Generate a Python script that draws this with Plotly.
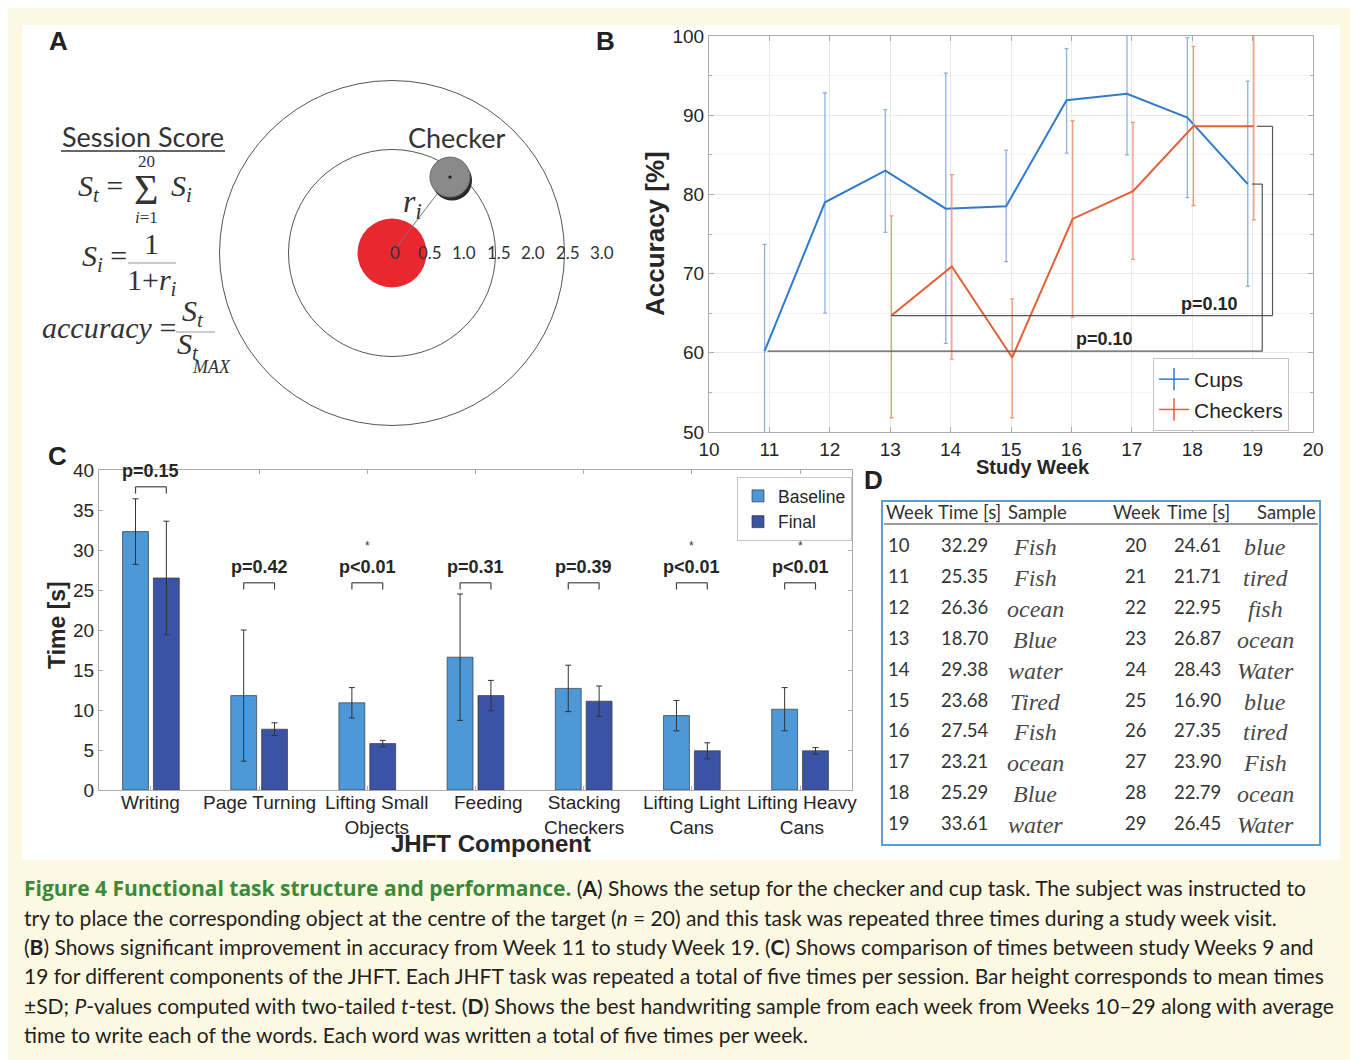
import plotly.graph_objects as go

# Figure is placed inside a page with an 8px body margin, so screen pixel x maps to x-8.
OFF = 8
W, H = 1350, 1052


def px(x):
    return (x - OFF) / W


def py(y):
    return 1 - (y - OFF) / H


# ---------------- Panel B data (accuracy) ----------------
cups_weeks = [11, 12, 13, 14, 15, 16, 17, 18, 19]
cups_acc = [60.2, 79.0, 83.0, 78.2, 78.5, 91.9, 92.7, 89.7, 81.3]
cups_upper = [73.7, 92.8, 90.7, 95.3, 85.6, 98.4, 100.3, 99.8, 94.3]
cups_lower = [48.0, 65.0, 75.2, 61.2, 71.5, 85.2, 85.0, 79.6, 68.4]

checkers_weeks = [13, 14, 15, 16, 17, 18, 19]
checkers_acc = [64.7, 70.9, 59.4, 76.9, 80.4, 88.6, 88.6]
checkers_upper = [77.3, 82.5, 66.8, 89.3, 89.1, 98.7, 101.0]
checkers_lower = [51.8, 59.2, 51.8, 64.5, 71.8, 78.6, 76.8]

b_pvalues = ["p=0.10", "p=0.10"]

# ---------------- Panel C data (JHFT) ----------------
jhft_components = ["Writing", "Page Turning", "Lifting Small<br>Objects", "Feeding",
                   "Stacking<br>Checkers", "Lifting Light<br>Cans", "Lifting Heavy<br>Cans"]
baseline_time = [32.3, 11.8, 10.9, 16.6, 12.7, 9.3, 10.1]
baseline_sd = [4.1, 8.2, 1.9, 7.9, 2.9, 1.9, 2.7]
final_time = [26.5, 7.6, 5.8, 11.8, 11.1, 4.9, 4.9]
final_sd = [7.1, 0.8, 0.4, 1.9, 1.9, 1.0, 0.4]
c_pvalues = ["p=0.15", "p=0.42", "p<0.01", "p=0.31", "p=0.39", "p<0.01", "p<0.01"]
c_significant = [False, False, True, False, False, True, True]

# ---------------- Panel D data (handwriting table) ----------------
weeks_left = [10, 11, 12, 13, 14, 15, 16, 17, 18, 19]
times_left = ["32.29", "25.35", "26.36", "18.70", "29.38", "23.68", "27.54", "23.21", "25.29", "33.61"]
samples_left = ["Fish", "Fish", "ocean", "Blue", "water", "Tired", "Fish", "ocean", "Blue", "water"]
weeks_right = [20, 21, 22, 23, 24, 25, 26, 27, 28, 29]
times_right = ["24.61", "21.71", "22.95", "26.87", "28.43", "16.90", "27.35", "23.90", "22.79", "26.45"]
samples_right = ["blue", "tired", "fish", "ocean", "Water", "blue", "tired", "Fish", "ocean", "Water"]

# ---------------- Panel A (target diagram) ----------------
ring_radii = [1.5, 2.5]
target_radius = 0.5
checker_pos = (0.84, 1.10)
checker_radius = 0.29
scale_ticks = [0, 0.5, 1.0, 1.5, 2.0, 2.5, 3.0]

caption_lines = [
    "<span style='color:#3b8a3b;font-family:Open Sans'><b>Figure 4 Functional task structure and performance.</b></span> (<b>A</b>) Shows the setup for the checker and cup task. The subject was instructed to",
    "try to place the corresponding object at the centre of the target (<i>n</i> = 20) and this task was repeated three times during a study week visit.",
    "(<b>B</b>) Shows significant improvement in accuracy from Week 11 to study Week 19. (<b>C</b>) Shows comparison of times between study Weeks 9 and",
    "19 for different components of the JHFT. Each JHFT task was repeated a total of five times per session. Bar height corresponds to mean times",
    "±SD; <i>P</i>-values computed with two-tailed <i>t</i>-test. (<b>D</b>) Shows the best handwriting sample from each week from Weeks 10–29 along with average",
    "time to write each of the words. Each word was written a total of five times per week.",
]

# ---------------- colours / fonts ----------------
CREAM = "#fdf8e2"
BLUE_L = "#2f7bcd"
ORANGE_L = "#e35f38"
BLUE_E = "#8db2e2"
ORANGE_E = "#f0997a"
BASE_C = "#4d98d6"
FINAL_C = "#3b53a5"
SANS = "Liberation Sans, Arial, sans-serif"
HUM = "Lato, Open Sans, sans-serif"
SERIF = "Liberation Serif, Times New Roman, serif"
TXT = "#262626"

fig = go.Figure()

# ---------- Panel B traces ----------
cup_x = [w - 0.08 for w in cups_weeks]
chk_x = [w + 0.02 for w in checkers_weeks]
fig.add_trace(go.Scatter(
    x=cup_x, y=cups_acc, mode="lines", line=dict(color=BLUE_L, width=2),
    error_y=dict(type="data", symmetric=False,
                 array=[u - a for u, a in zip(cups_upper, cups_acc)],
                 arrayminus=[a - l for a, l in zip(cups_acc, cups_lower)],
                 color=BLUE_E, thickness=1.3, width=2),
    xaxis="x2", yaxis="y2", showlegend=False, name="Cups"))
fig.add_trace(go.Scatter(
    x=chk_x, y=checkers_acc, mode="lines", line=dict(color=ORANGE_L, width=2),
    error_y=dict(type="data", symmetric=False,
                 array=[u - a for u, a in zip(checkers_upper, checkers_acc)],
                 arrayminus=[a - l for a, l in zip(checkers_acc, checkers_lower)],
                 color=ORANGE_E, thickness=1.3, width=2),
    xaxis="x2", yaxis="y2", showlegend=False, name="Checkers"))
for nm, col in [("Cups", BLUE_L), ("Checkers", ORANGE_L)]:
    fig.add_trace(go.Scatter(
        x=[None], y=[None], mode="lines+markers", name=nm,
        line=dict(color=col, width=1.5),
        marker=dict(symbol="line-ns-open", size=18, line=dict(color=col, width=1.5)),
        xaxis="x2", yaxis="y2", legend="legend"))

# ---------- Panel C traces ----------
cat_x = list(range(len(jhft_components)))
fig.add_trace(go.Bar(
    x=cat_x, y=baseline_time, name="Baseline", marker=dict(color=BASE_C, line=dict(color="#3a3a3a", width=0.7)),
    error_y=dict(type="data", array=baseline_sd, color="#333333", thickness=1, width=3),
    xaxis="x3", yaxis="y3", legend="legend2"))
fig.add_trace(go.Bar(
    x=cat_x, y=final_time, name="Final", marker=dict(color=FINAL_C, line=dict(color="#3a3a3a", width=0.7)),
    error_y=dict(type="data", array=final_sd, color="#333333", thickness=1, width=3),
    xaxis="x3", yaxis="y3", legend="legend2"))

BARGAP = 0.43
half = (1 - BARGAP) / 4

shapes = []
annotations = []

# white figure area
shapes.append(dict(type="rect", xref="paper", yref="paper", x0=px(22), x1=px(1340), y0=py(860), y1=py(25),
                   fillcolor="white", line=dict(width=0), layer="below"))


def ann(text, x, y, size, family=SANS, color=TXT, xanchor="center", yanchor="middle", **kw):
    d = dict(text=text, x=px(x), y=py(y), xref="paper", yref="paper", showarrow=False,
             font=dict(size=size, family=family, color=color), xanchor=xanchor, yanchor=yanchor)
    d.update(kw)
    annotations.append(d)


# panel letters
for letter, (lx, ly) in zip("ABCD", [(58, 41), (605, 41), (57, 456), (873, 480)]):
    ann("<b>%s</b>" % letter, lx, ly, 26, color="#222")

# ---------- Panel A drawing ----------
for r in ring_radii:
    shapes.append(dict(type="circle", xref="x", yref="y", x0=-r, x1=r, y0=-r, y1=r,
                       line=dict(color="#555", width=1)))
shapes.append(dict(type="circle", xref="x", yref="y", x0=-target_radius, x1=target_radius,
                   y0=-target_radius, y1=target_radius, fillcolor="#e8272f", line=dict(width=0)))
cx, cy = checker_pos
shapes.append(dict(type="line", xref="x", yref="y", x0=0, y0=0, x1=cx, y1=cy,
                   line=dict(color="#777", width=1)))
shapes.append(dict(type="circle", xref="x", yref="y", x0=cx - checker_radius + 0.03, x1=cx + checker_radius + 0.03,
                   y0=cy - checker_radius - 0.05, y1=cy + checker_radius - 0.05, fillcolor="#2a2a2a", line=dict(width=0)))
shapes.append(dict(type="circle", xref="x", yref="y", x0=cx - checker_radius, x1=cx + checker_radius,
                   y0=cy - checker_radius, y1=cy + checker_radius, fillcolor="#8a8a8a",
                   line=dict(color="#6a6a6a", width=1)))
shapes.append(dict(type="circle", xref="x", yref="y", x0=cx - 0.025, x1=cx + 0.025,
                   y0=cy - 0.025, y1=cy + 0.025, fillcolor="#222", line=dict(width=0)))
for t in scale_ticks:
    annotations.append(dict(text=("%g" % t) if t == 0 else "%.1f" % t, x=t + 0.05, y=0, xref="x", yref="y",
                            showarrow=False, font=dict(size=17, family=HUM, color="#333")))
annotations.append(dict(text="Checker", x=cx + 0.1, y=1.67, xref="x", yref="y", showarrow=False,
                        font=dict(size=27, family=HUM, color="#333")))
annotations.append(dict(text="<i>r<sub>i</sub></i>", x=0.3, y=0.72, xref="x", yref="y", showarrow=False,
                        font=dict(size=32, family=SERIF, color="#333")))

# formulas
ann("Session Score", 143, 136, 27, family=HUM, color="#333")
shapes.append(dict(type="line", xref="paper", yref="paper", x0=px(61), x1=px(225), y0=py(151), y1=py(151),
                   line=dict(color="#666", width=2)))
ann("<i>S</i><sub><i>t</i></sub> =", 100, 188, 30, family=SERIF, color="#333")
ann("Σ", 146, 190, 42, family=SERIF, color="#333")
ann("20", 146, 161, 17, family=SERIF, color="#333")
ann("<i>i</i>=1", 146, 218, 17, family=SERIF, color="#333")
ann("<i>S</i><sub><i>i</i></sub>", 181, 188, 30, family=SERIF, color="#333")

ann("<i>S</i><sub><i>i</i></sub> =", 104, 258, 30, family=SERIF, color="#333")
ann("1", 151, 243, 30, family=SERIF, color="#333")
shapes.append(dict(type="line", xref="paper", yref="paper", x0=px(128), x1=px(176), y0=py(263), y1=py(263),
                   line=dict(color="#999", width=1)))
ann("1+<i>r</i><sub><i>i</i></sub>", 152, 282, 30, family=SERIF, color="#333")

ann("<i>accuracy</i> =", 178, 328, 30, family=SERIF, color="#333", xanchor="right")
ann("<i>S</i><sub><i>t</i></sub>", 193, 313, 30, family=SERIF, color="#333")
shapes.append(dict(type="line", xref="paper", yref="paper", x0=px(176), x1=px(215), y0=py(332), y1=py(332),
                   line=dict(color="#999", width=1)))
ann("<i>S</i><sub><i>t</i></sub>", 188, 346, 30, family=SERIF, color="#333")
ann("<i>MAX</i>", 211, 367, 18, family=SERIF, color="#333")

# ---------- Panel B brackets ----------
BR = dict(color="#555", width=1.2)
b1_y, b1_top, b1_xr = cups_acc[0], cups_acc[-1], 19.16
b2_y, b2_top, b2_xr = checkers_acc[0], checkers_acc[-1], 19.33
shapes += [
    dict(type="line", xref="x2", yref="y2", x0=cup_x[0] + 0.05, x1=b1_xr, y0=b1_y, y1=b1_y, line=BR),
    dict(type="line", xref="x2", yref="y2", x0=b1_xr, x1=b1_xr, y0=b1_y, y1=b1_top, line=BR),
    dict(type="line", xref="x2", yref="y2", x0=cup_x[-1] + 0.07, x1=b1_xr, y0=b1_top, y1=b1_top, line=BR),
    dict(type="line", xref="x2", yref="y2", x0=chk_x[0], x1=b2_xr, y0=b2_y, y1=b2_y, line=BR),
    dict(type="line", xref="x2", yref="y2", x0=b2_xr, x1=b2_xr, y0=b2_y, y1=b2_top, line=BR),
    dict(type="line", xref="x2", yref="y2", x0=chk_x[-1] + 0.05, x1=b2_xr, y0=b2_top, y1=b2_top, line=BR),
]
annotations.append(dict(text="<b>%s</b>" % b_pvalues[0], x=16.55, y=b1_y, xref="x2", yref="y2", yanchor="bottom",
                        showarrow=False, font=dict(size=18, family=SANS, color=TXT)))
annotations.append(dict(text="<b>%s</b>" % b_pvalues[1], x=18.28, y=b2_y, xref="x2", yref="y2", yanchor="bottom",
                        showarrow=False, font=dict(size=18, family=SANS, color=TXT)))
ann("<b>Accuracy [%]</b>", 655, 234, 26, textangle=-90)
ann("<b>Study Week</b>", 1033, 467, 20)

# ---------- Panel C brackets / p values / category labels ----------
label_shift = [0.0, 0.0, 0.09, 0.12, 0.0, 0.0, 0.02]
for i, (pv, sig) in enumerate(zip(c_pvalues, c_significant)):
    top = 37.9 if i == 0 else 25.9
    tip = top - 0.85
    xl, xr = i - half, i + half
    shapes += [
        dict(type="line", xref="x3", yref="y3", x0=xl, x1=xr, y0=top, y1=top, line=dict(color="#444", width=1.2)),
        dict(type="line", xref="x3", yref="y3", x0=xl, x1=xl, y0=tip, y1=top, line=dict(color="#444", width=1.2)),
        dict(type="line", xref="x3", yref="y3", x0=xr, x1=xr, y0=tip, y1=top, line=dict(color="#444", width=1.2)),
    ]
    annotations.append(dict(text="<b>%s</b>" % pv, x=i, y=top + 0.5, xref="x3", yref="y3", yanchor="bottom",
                            showarrow=False, font=dict(size=18, family=SANS, color=TXT)))
    if sig:
        annotations.append(dict(text="*", x=i, y=top + 4.6, xref="x3", yref="y3", yanchor="middle",
                                showarrow=False, font=dict(size=12, family=SANS, color="#333")))
    annotations.append(dict(text=jhft_components[i], x=i + label_shift[i], y=py(790), xref="x3", yref="paper",
                            yanchor="top", showarrow=False, font=dict(size=19, family=SANS, color=TXT)))
ann("<b>Time [s]</b>", 57, 625, 23, textangle=-90)
ann("<b>JHFT Component</b>", 491, 843, 24)

# ---------- Panel D table ----------
shapes.append(dict(type="rect", xref="paper", yref="paper", x0=px(882), x1=px(1320), y0=py(845), y1=py(501),
                   line=dict(color="#5d9cdc", width=2)))
shapes.append(dict(type="line", xref="paper", yref="paper", x0=px(884), x1=px(1318), y0=py(524), y1=py(524),
                   line=dict(color="#9a9a9a", width=2)))
TF = 18.5
for txt, x, xa in [("Week", 884, "left"), ("Time [s]", 936, "left"), ("Sample", 1006, "left"),
                   ("Week", 1111, "left"), ("Time [s]", 1165, "left"), ("Sample", 1318, "right")]:
    ann(txt, x, 512, TF, family=HUM, color="#333", xanchor=xa)
for i in range(len(weeks_left)):
    yrow = 545 + 30.9 * i
    ann(str(weeks_left[i]), 886, yrow, TF, family=HUM, color="#333", xanchor="left")
    ann(times_left[i], 939, yrow, TF, family=HUM, color="#333", xanchor="left")
    ann("<i>%s</i>" % samples_left[i], 1035, yrow + 2, 24, family=SERIF, color="#4a4a4a")
    ann(str(weeks_right[i]), 1123, yrow, TF, family=HUM, color="#333", xanchor="left")
    ann(times_right[i], 1172, yrow, TF, family=HUM, color="#333", xanchor="left")
    ann("<i>%s</i>" % samples_right[i], 1265, yrow + 2, 24, family=SERIF, color="#4a4a4a")

# ---------- caption ----------
for i, line in enumerate(caption_lines):
    ann(line, 22, 888 + 29.3 * i, 21, family=HUM, color="#231f20", xanchor="left")

# ---------- axes ----------
AX_LINE = "#ababab"
tickfont = dict(family=SANS, size=19, color=TXT)
fig.update_layout(
    width=W, height=H, margin=dict(l=0, r=0, t=0, b=0, pad=0, autoexpand=False),
    paper_bgcolor=CREAM, plot_bgcolor="white",
    barmode="group", bargap=BARGAP, bargroupgap=0.16,
    xaxis=dict(domain=[px(180), px(620)], range=[(180 - 392) / 69, (620 - 392) / 69], visible=False),
    yaxis=dict(domain=[py(445), py(60)], range=[(253 - 445) / 69, (253 - 60) / 69], visible=False),
    xaxis2=dict(domain=[px(709), px(1313)], range=[10, 20], dtick=1, anchor="y2", automargin=False,
                showgrid=True, gridcolor="#e9e9e9", zeroline=False,
                showline=True, linecolor=AX_LINE, mirror="ticks", ticks="inside", ticklen=5,
                tickcolor=AX_LINE, tickfont=tickfont),
    yaxis2=dict(domain=[py(432), py(36)], range=[50, 100], dtick=10, anchor="x2", automargin=False,
                showgrid=True, gridcolor="#e9e9e9", zeroline=False,
                minor=dict(dtick=5, showgrid=True, gridcolor="#f4f4f4", ticks="inside", ticklen=3, tickcolor=AX_LINE),
                showline=True, linecolor=AX_LINE, mirror="ticks", ticks="inside", ticklen=5,
                tickcolor=AX_LINE, tickfont=tickfont),
    xaxis3=dict(domain=[px(99), px(852)], range=[-0.48, 6.48], anchor="y3", automargin=False,
                tickvals=cat_x, showticklabels=False, showgrid=False, zeroline=False,
                showline=True, linecolor=AX_LINE, mirror="ticks", ticks="inside", ticklen=4,
                tickcolor=AX_LINE),
    yaxis3=dict(domain=[py(790), py(470)], range=[0, 40], dtick=5, anchor="x3", automargin=False,
                showgrid=False, zeroline=False,
                showline=True, linecolor=AX_LINE, mirror="ticks", ticks="inside", ticklen=4,
                tickcolor=AX_LINE, tickfont=tickfont),
    legend=dict(x=px(1153), y=py(358), xanchor="left", yanchor="top", bgcolor="white",
                bordercolor="#c4c4c4", borderwidth=1, font=dict(family=SANS, size=21, color=TXT),
                tracegroupgap=0, itemwidth=30),
    legend2=dict(x=px(737), y=py(477), xanchor="left", yanchor="top", bgcolor="white",
                 bordercolor="#c4c4c4", borderwidth=1, font=dict(family=SANS, size=17.5, color=TXT),
                 tracegroupgap=0, itemwidth=30),
    shapes=shapes, annotations=annotations,
)

fig.write_html("out.html", config={"displayModeBar": False})
